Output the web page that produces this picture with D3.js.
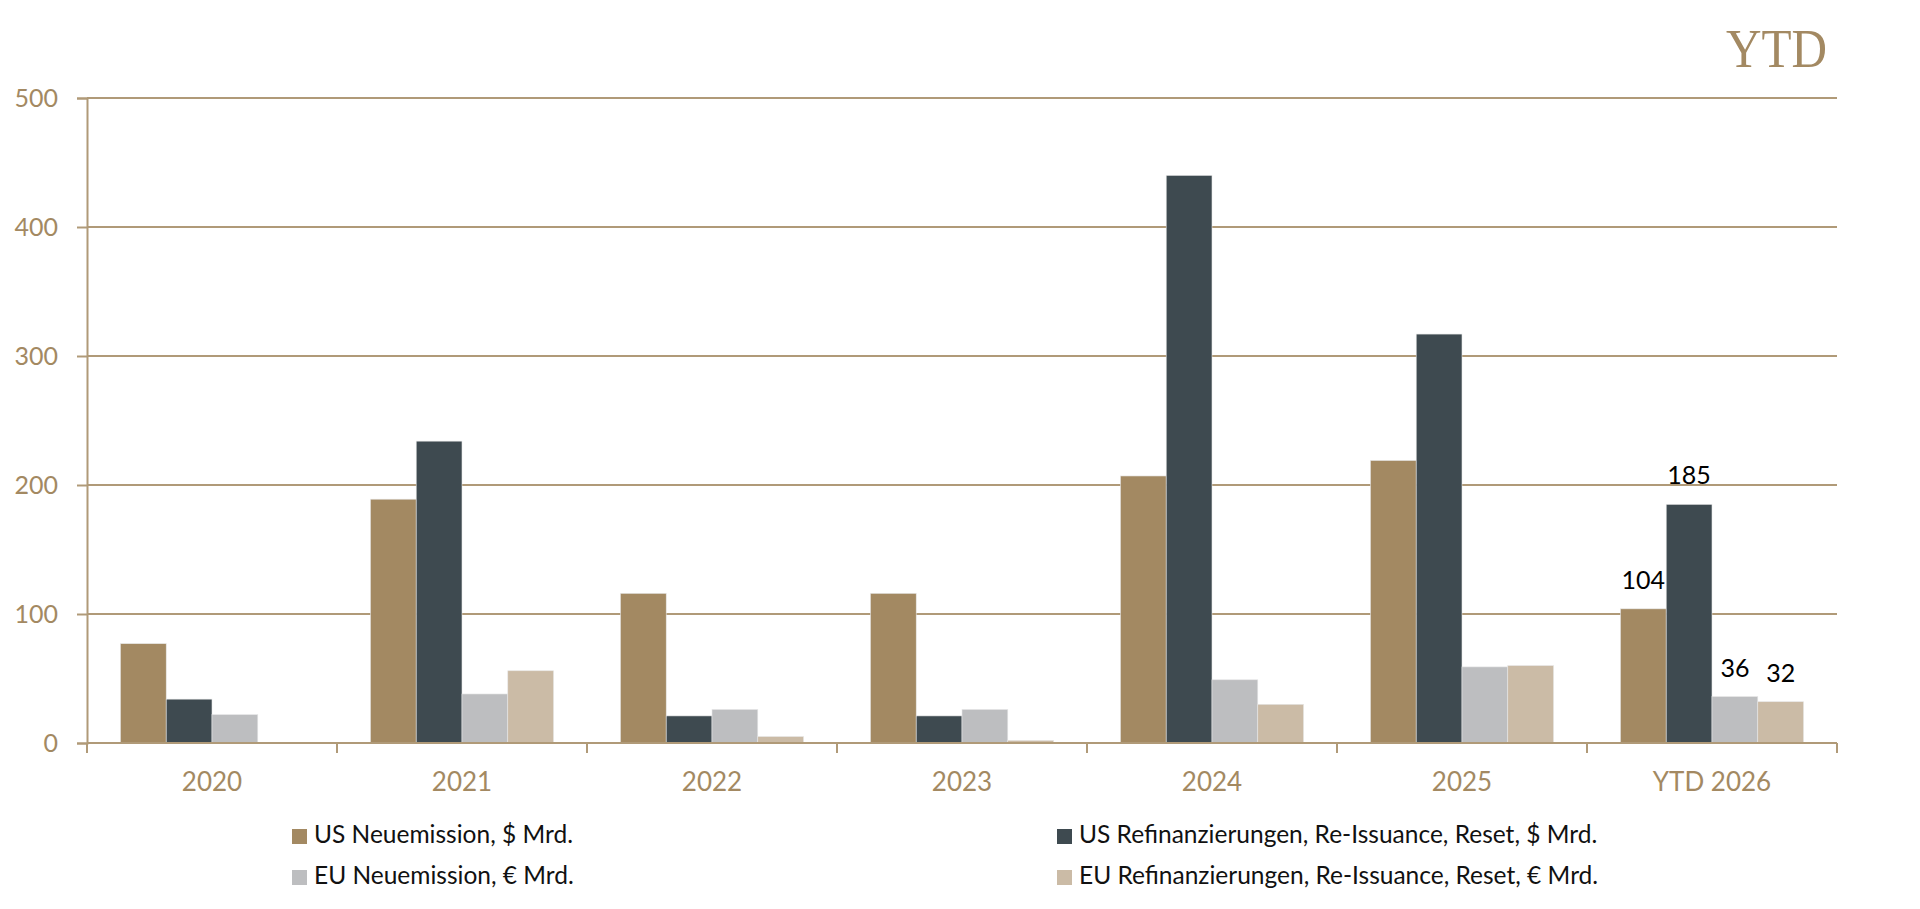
<!DOCTYPE html>
<html>
<head>
<meta charset="utf-8">
<script src="https://cdn.jsdelivr.net/npm/d3@7"></script>
<style>
	body { margin: 0; background: #fff; }
	text { font-family: Lato, 'Open Sans', sans-serif; }
</style>
</head>
<body>
<div id="chart"></div>
<script>
// values
const categories = ['2020', '2021', '2022', '2023', '2024', '2025', 'YTD 2026']
const seriesNames = [
	'US Neuemission, $ Mrd.',
	'US Refinanzierungen, Re-Issuance, Reset, $ Mrd.',
	'EU Neuemission, € Mrd.',
	'EU Refinanzierungen, Re-Issuance, Reset, € Mrd.'
]
const usNew = [77, 189, 116, 116, 207, 219, 104]
const usRefi = [34, 234, 21, 21, 440, 317, 185]
const euNew = [22, 38, 26, 26, 49, 59, 36]
const euRefi = [0, 56, 5, 2, 30, 60, 32]
const yTicks = [0, 100, 200, 300, 400, 500]
const labelledCategory = 'YTD 2026'

const colors = ['#a38962', '#3e4a50', '#bdbec0', '#cbbba6']
const tan = '#a38962'
const lineColor = '#b09a78'

const seriesValues = [usNew, usRefi, euNew, euRefi]
const rows = categories.map((c, i) => ({
	category: c,
	values: seriesNames.map((s, k) => ({ key: s, value: seriesValues[k][i], color: colors[k] }))
}))

const svg = d3.select('#chart')
	.append('svg')
	.attr('width', 1920)
	.attr('height', 909)

const plotLeft = 87
const plotRight = 1837
const plotBottom = 743
const plotTop = 98

const x0 = d3.scaleBand()
	.domain(categories)
	.range([plotLeft, plotRight])

const x1 = d3.scaleBand()
	.domain(seriesNames)
	.range([0, x0.bandwidth()])
	.paddingOuter(0.73)

const y = d3.scaleLinear()
	.domain([0, 500])
	.range([plotBottom, plotTop])

// gridlines
svg.append('g')
	.selectAll('line')
	.data(yTicks)
	.enter()
	.append('line')
	.attr('x1', plotLeft)
	.attr('x2', plotRight)
	.attr('y1', d => y(d))
	.attr('y2', d => y(d))
	.attr('stroke', lineColor)
	.attr('stroke-width', 2)

// y axis
const yAxis = svg.append('g')
	.attr('transform', `translate(${plotLeft},0)`)
	.call(d3.axisLeft(y).tickValues(yTicks).tickSize(10).tickPadding(19))
yAxis.select('.domain').attr('stroke', lineColor).attr('stroke-width', 2)
yAxis.selectAll('.tick line').attr('stroke', lineColor).attr('stroke-width', 2)
yAxis.selectAll('text')
	.attr('fill', tan)
	.style('font-size', '25px')
	.attr('dy', '0.34em')

// bars
const groups = svg.append('g')
	.selectAll('g')
	.data(rows)
	.enter()
	.append('g')
	.attr('transform', d => `translate(${x0(d.category)},0)`)

groups.selectAll('rect')
	.data(d => d.values)
	.enter()
	.append('rect')
	.attr('x', d => x1(d.key))
	.attr('y', d => y(d.value))
	.attr('width', x1.bandwidth())
	.attr('height', d => y(0) - y(d.value))
	.attr('fill', d => d.color)
	.attr('stroke', '#e6e6e6')
	.attr('stroke-width', 0.6)

// data labels for the YTD group
groups.filter(d => d.category === labelledCategory)
	.selectAll('text')
	.data(d => d.values)
	.enter()
	.append('text')
	.attr('x', d => x1(d.key) + x1.bandwidth() / 2)
	.attr('y', d => y(d.value) - 20)
	.attr('text-anchor', 'middle')
	.attr('fill', '#000')
	.style('font-size', '25px')
	.text(d => d.value)

// x axis
svg.append('line')
	.attr('x1', plotLeft)
	.attr('x2', plotRight)
	.attr('y1', plotBottom)
	.attr('y2', plotBottom)
	.attr('stroke', lineColor)
	.attr('stroke-width', 2)

const boundaries = categories.map(c => x0(c)).concat([plotRight])
svg.append('g')
	.selectAll('line')
	.data(boundaries)
	.enter()
	.append('line')
	.attr('x1', d => d)
	.attr('x2', d => d)
	.attr('y1', plotBottom)
	.attr('y2', plotBottom + 10)
	.attr('stroke', lineColor)
	.attr('stroke-width', 2)

const xAxis = svg.append('g')
	.attr('transform', `translate(0,${plotBottom})`)
	.call(d3.axisBottom(x0).tickSize(0))
xAxis.select('.domain').remove()
xAxis.selectAll('text')
	.attr('y', 48)
	.attr('dy', 0)
	.attr('fill', tan)
	.style('font-size', '26px')

// legend
const legendPos = [[292, 843], [1057, 843], [292, 884], [1057, 884]]
const legend = svg.append('g')
	.selectAll('g')
	.data(seriesNames)
	.enter()
	.append('g')
	.attr('transform', (d, i) => `translate(${legendPos[i][0]},${legendPos[i][1]})`)

legend.append('rect')
	.attr('x', 0)
	.attr('y', -14)
	.attr('width', 15)
	.attr('height', 15)
	.attr('fill', (d, i) => colors[i])

legend.append('text')
	.attr('x', 22)
	.attr('y', 0)
	.attr('fill', '#111')
	.style('font-size', '24.5px')
	.text(d => d)

// title
svg.append('text')
	.attr('x', 1827)
	.attr('y', 67)
	.attr('text-anchor', 'end')
	.attr('fill', tan)
	.style('font-family', "'Liberation Serif', 'DejaVu Serif', serif")
	.style('font-size', '55px')
	.attr('textLength', 101)
	.attr('lengthAdjust', 'spacingAndGlyphs')
	.text('YTD')
</script>
</body>
</html>
